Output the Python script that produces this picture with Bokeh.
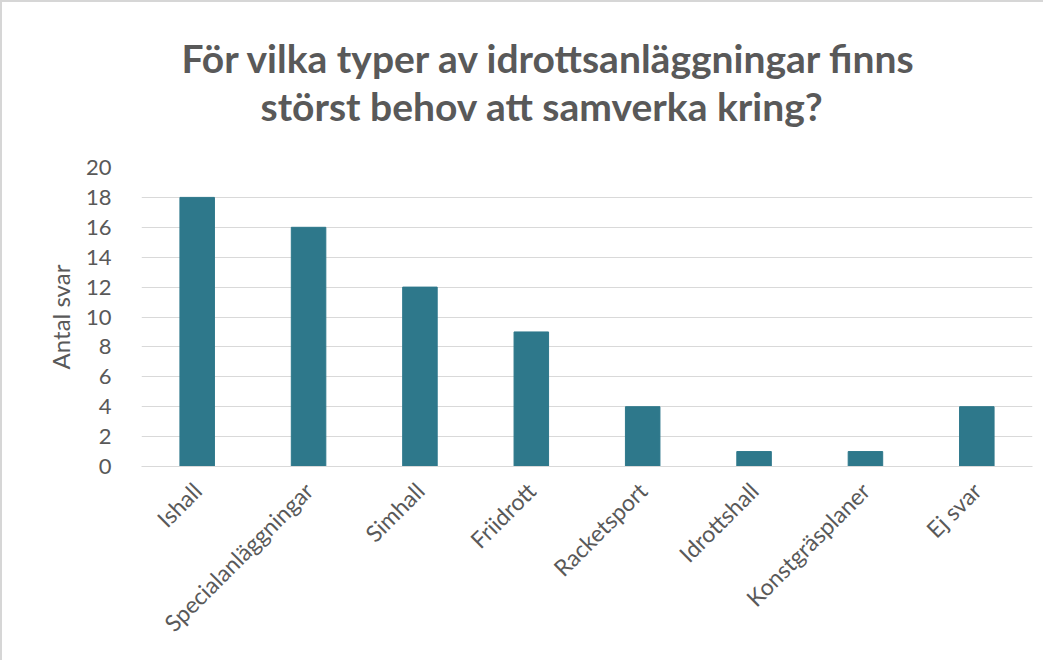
import math
from bokeh.plotting import figure
from bokeh.models import (ColumnDataSource, Title, Range1d, FixedTicker,
                          LinearAxis)
from bokeh.embed import file_html
from bokeh.resources import INLINE

categories = ["Ishall", "Specialanläggningar", "Simhall", "Friidrott",
              "Racketsport", "Idrottshall", "Konstgräsplaner", "Ej svar"]
values = [18, 16, 12, 9, 4, 1, 1, 4]
y_ticks = [0, 2, 4, 6, 8, 10, 12, 14, 16, 18, 20]
title_lines = ["För vilka typer av idrottsanläggningar finns",
               "störst behov att samverka kring?"]
y_label = "Antal svar"

FONT = "Lato"
GREY = "#595959"
BAR = "#2E788B"

W, H = 1043, 660
p = figure(x_range=categories, y_range=Range1d(0, 20), width=W, height=H,
           output_backend="svg", toolbar_location=None,
           min_border_left=139, min_border_right=13,
           min_border_top=165, min_border_bottom=196)
p.outline_line_color = None
p.background_fill_color = "white"
p.border_fill_color = "white"

src = ColumnDataSource(dict(cat=categories, val=values))
p.vbar(x="cat", top="val", width=0.31, source=src,
       fill_color=BAR, line_color=BAR)

p.xgrid.grid_line_color = None
p.ygrid.grid_line_color = "#d9d9d9"
p.ygrid.grid_line_width = 1
p.yaxis.ticker = FixedTicker(ticks=y_ticks)

for ax in (p.xaxis[0], p.yaxis[0]):
    ax.major_tick_line_color = None
    ax.minor_tick_line_color = None
    ax.major_label_text_font = FONT
    ax.major_label_text_color = GREY
p.yaxis.major_label_text_font_size = "22px"
p.xaxis.major_label_text_font_size = "23px"
p.yaxis.axis_line_color = None
p.xaxis.axis_line_color = "#d9d9d9"
p.xaxis.major_label_orientation = math.pi / 4
p.xaxis.major_label_standoff = 14
p.yaxis.major_label_standoff = 24

p.yaxis.axis_label = y_label
p.yaxis.axis_label_text_font = FONT
p.yaxis.axis_label_text_font_style = "normal"
p.yaxis.axis_label_text_font_size = "24px"
p.yaxis.axis_label_text_color = GREY
p.yaxis.axis_label_standoff = 8

# invisible (white) spacer between the frame and the title lines
spacer = LinearAxis(ticker=FixedTicker(ticks=[0]),
                    axis_line_color=None, major_tick_line_color="white",
                    minor_tick_line_color=None, major_tick_in=0,
                    major_tick_out=39, minor_tick_out=0,
                    major_label_standoff=0, major_label_overrides={0: ""},
                    major_label_text_font_size="1px")
p.add_layout(spacer, "above")

# title: two stacked title lines (line 2 nearest the frame)
offsets = [40, 119]
for line, off in reversed(list(zip(title_lines, offsets))):
    p.add_layout(Title(text=line, align="left", offset=off, standoff=0,
                       text_font=FONT, text_font_style="bold",
                       text_font_size="39px", text_color=GREY), "above")

p.styles = {"border-left": "2px solid #d6d6d6", "border-top": "2px solid #d6d6d6"}

open("out.html", "w").write(file_html(p, INLINE))
